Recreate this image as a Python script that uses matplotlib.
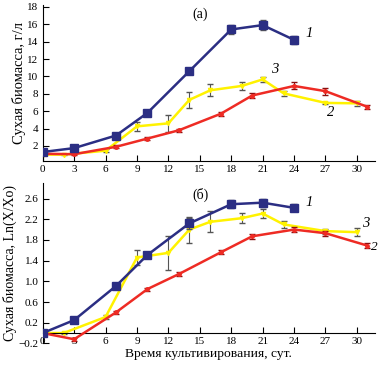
import numpy as np
import matplotlib.pyplot as plt

plt.rcParams['font.family'] = ['Liberation Serif', 'DejaVu Serif']
plt.rcParams['font.size'] = 8

# данные (а): г/л
days1 = [0, 3, 7, 10, 14, 18, 21, 24]
bio1 = [1.3, 1.75, 3.2, 5.8, 10.6, 15.4, 15.9, 14.2]
err1 = [0.2, 0.2, 0.3, 0.3, 0.35, 0.5, 0.55, 0.45]

days2 = [0, 3, 7, 10, 13, 17, 20, 24, 27, 31]
bio2 = [1.1, 1.05, 1.9, 2.85, 3.8, 5.7, 7.8, 8.9, 8.3, 6.5]
err2 = [0.1, 0.1, 0.15, 0.15, 0.2, 0.2, 0.3, 0.4, 0.4, 0.25]

days3 = [0, 2, 6, 9, 12, 14, 16, 19, 21, 23, 27, 30]
bio3 = [1.0, 1.0, 1.45, 4.25, 4.6, 7.3, 8.4, 8.9, 9.65, 8.05, 6.95, 6.9]
err3 = [0.1, 0.1, 0.2, 0.5, 1.0, 0.9, 0.7, 0.5, 0.3, 0.3, 0.15, 0.3]

# данные (б): Ln(X/Xo)
ln1 = [0.0, 0.25, 0.91, 1.51, 2.12, 2.49, 2.52, 2.42]
lerr1 = [0.03, 0.03, 0.04, 0.05, 0.1, 0.08, 0.08, 0.07]
ln2 = [0.0, -0.12, 0.4, 0.85, 1.14, 1.56, 1.87, 2.0, 1.93, 1.69]
lerr2 = [0.02, 0.03, 0.03, 0.03, 0.04, 0.04, 0.05, 0.05, 0.05, 0.05]
ln3 = [0.0, 0.0, 0.31, 1.46, 1.55, 2.0, 2.15, 2.22, 2.31, 2.1, 1.97, 1.95]
lerr3 = [0.02, 0.02, 0.03, 0.15, 0.33, 0.25, 0.2, 0.1, 0.08, 0.06, 0.05, 0.08]

xticks = list(range(0, 31, 3))

blue = '#2B2E83'
red = '#EE2B24'
yellow = '#FFF200'
ecol = '#555555'

fig = plt.figure(figsize=(3.79, 3.65), dpi=100)
ax1 = fig.add_axes([0.1127, 0.5597, 0.876, 0.4263])
ax2 = fig.add_axes([0.1127, 0.0592, 0.876, 0.4394])


def draw(ax, d1, y1, e1, d2, y2, e2, d3, y3, e3):
    ax.errorbar(d3, y3, yerr=e3, color=yellow, lw=1.8, marker='v', ms=3,
                ecolor=ecol, elinewidth=0.8, capsize=2, zorder=2)
    ax.errorbar(d2, y2, yerr=e2, color=red, lw=1.8, marker='o', ms=2.5,
                ecolor='#8a1010', elinewidth=0.8, capsize=2, zorder=3)
    ax.errorbar(d1, y1, yerr=e1, color=blue, lw=1.8, marker='s', ms=5.5,
                ecolor=ecol, elinewidth=0.8, capsize=2, zorder=4)
    ax.spines['top'].set_visible(False)
    ax.spines['right'].set_visible(False)
    ax.tick_params(direction='in', length=4, width=0.8, pad=3, labelsize=8)
    ax.set_xlim(0, 31.7)
    ax.set_xticks(xticks)


draw(ax1, days1, bio1, err1, days2, bio2, err2, days3, bio3, err3)
ax1.set_ylim(0.3, 18.2)
ax1.set_yticks(range(2, 19, 2))
ax1.set_ylabel('Сухая биомасса, г/л', fontsize=10.5, labelpad=1)
ax1.text(14.3, 16.7, '(а)', fontsize=10)
ax1.text(25.1, 14.5, '1', fontstyle='italic', fontsize=10.5)
ax1.text(21.8, 10.4, '3', fontstyle='italic', fontsize=10.5)
ax1.text(27.1, 5.4, '2', fontstyle='italic', fontsize=10.5)

draw(ax2, days1, ln1, lerr1, days2, ln2, lerr2, days3, ln3, lerr3)
ax2.set_ylim(-0.2, 2.9)
ax2.spines['bottom'].set_position(('data', 0))
yt = [-0.2, 0.2, 0.6, 1.0, 1.4, 1.8, 2.2, 2.6]
ax2.set_yticks(yt)
ax2.set_yticklabels(['\u22120.2'] + [f'{v:.1f}' for v in yt[1:]])
ax2.set_ylabel('Сухая биомасса, Ln(X/Xo)', fontsize=10, labelpad=1)
ax2.set_xlabel('Время культивирования, сут.', fontsize=9.7, labelpad=1)
ax2.text(14.3, 2.6, '(б)', fontsize=10)
ax2.text(25.1, 2.46, '1', fontstyle='italic', fontsize=10.5)
ax2.text(30.5, 2.05, '3', fontstyle='italic', fontsize=10.5)
ax2.text(31.3, 1.6, '2', fontstyle='italic', fontsize=9.5, clip_on=False)

fig.savefig('out.png', dpi=100)
